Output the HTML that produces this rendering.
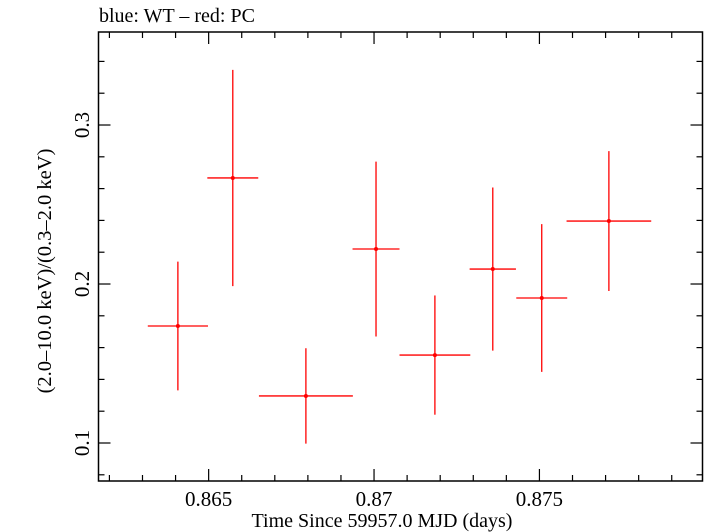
<!DOCTYPE html>
<html><head><meta charset="utf-8"><style>
body{margin:0;background:#fff}
svg{display:block;font-family:"Liberation Serif",serif}
</style></head><body>
<svg width="705" height="532" viewBox="0 0 705 532">
<text x="99" y="22" font-size="20">blue: WT – red: PC</text>
<rect x="98.5" y="32" width="604" height="449" fill="none" stroke="#000" stroke-width="1.5"/>
<g id="ticks"></g>
<g id="marks"></g>
<text x="382" y="527" font-size="20" text-anchor="middle">Time Since 59957.0 MJD (days)</text>
<text transform="translate(51,271) rotate(-90)" font-size="20.5" text-anchor="middle">(2.0–10.0 keV)/(0.3–2.0 keV)</text>
</svg>
<script>
const xCenters=[0.86407,0.86573,0.86794,0.87006,0.87184,0.87359,0.87507,0.87710];
const xHalfWidths=[0.00091,0.00077,0.00142,0.00071,0.00107,0.0007,0.00077,0.00128];
const ratios=[0.1736,0.2667,0.1296,0.222,0.1553,0.2094,0.1912,0.2396];
const ratioErrors=[0.0405,0.068,0.030,0.055,0.0375,0.0513,0.0465,0.044];
const xTickLabels=["0.865","0.87","0.875"];
const yTickLabels=["0.1","0.2","0.3"];
const X0=98.5,X1=702.5,Y0=481,Y1=32;
const xMin=0.86167,xMax=0.87993,yMin=0.0761,yMax=0.3585;
const sx=v=>X0+(v-xMin)/(xMax-xMin)*(X1-X0);
const sy=v=>Y0-(v-yMin)/(yMax-yMin)*(Y0-Y1);
const NS="http://www.w3.org/2000/svg";
const tg=document.getElementById('ticks'),mg=document.getElementById('marks');
function ln(p,x1,y1,x2,y2,c,w){const l=document.createElementNS(NS,'line');l.setAttribute('x1',x1);l.setAttribute('y1',y1);l.setAttribute('x2',x2);l.setAttribute('y2',y2);l.setAttribute('stroke',c);l.setAttribute('stroke-width',w);p.appendChild(l);return l;}
function tx(p,x,y,s,anchor,rot){const t=document.createElementNS(NS,'text');t.setAttribute('x',x);t.setAttribute('y',y);t.setAttribute('font-size','21');t.setAttribute('text-anchor',anchor);if(rot)t.setAttribute('transform',rot);t.textContent=s;p.appendChild(t);return t;}
for(let i=0;i<=20;i++){const v=0.862+i*0.001;if(v>xMax)break;const x=sx(v);const major=Math.abs((v*1000)%5)<1e-6||Math.abs((v*1000)%5-5)<1e-6;const L=major?12:6;
const a=ln(tg,x,Y0,x,Y0-L,'#000',1.2);
const b=ln(tg,x,Y1,x,Y1+L,'#000',1.2);}
xTickLabels.forEach(s=>{const t=tx(tg,sx(parseFloat(s)),506,s,'middle');});
for(let i=0;i<=15;i++){const v=0.08+i*0.02;if(v>yMax)break;const y=sy(v);const major=Math.abs(((v+1e-9)*10)%1)<1e-4;const L=major?12:6;
const a=ln(tg,X0,y,X0+L,y,'#000',1.2);
const b=ln(tg,X1,y,X1-L,y,'#000',1.2);}
yTickLabels.forEach(s=>{const y=sy(parseFloat(s));const t=tx(tg,82,y,s,'middle','rotate(-90 82 '+y+')');t.setAttribute('dy','7');});
xCenters.forEach((xc,i)=>{const g=document.createElementNS(NS,'g');


const y=sy(ratios[i]);
ln(g,sx(xc-xHalfWidths[i]),y,sx(xc+xHalfWidths[i]),y,'#f00',1.3);
ln(g,sx(xc),sy(ratios[i]-ratioErrors[i]),sx(xc),sy(ratios[i]+ratioErrors[i]),'#f00',1.3);
const c=document.createElementNS(NS,'circle');c.setAttribute('cx',sx(xc));c.setAttribute('cy',y);c.setAttribute('r',2);c.setAttribute('fill','#f00');g.appendChild(c);
mg.appendChild(g);});
</script>
</body></html>
